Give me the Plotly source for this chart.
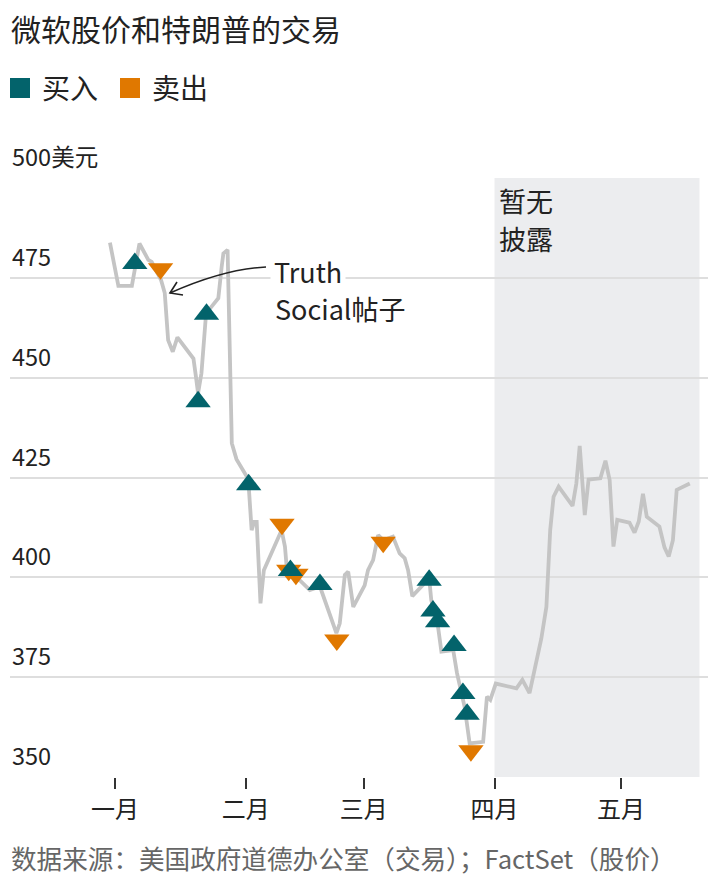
import plotly.graph_objects as go

# ---------------- data (x = days since 1 January) ----------------
price_day = [-1.2, 0.8, 4.0, 5.8, 7.9, 8.7, 10.9, 11.8, 12.6, 13.7, 14.8, 18.6, 19.2, 19.7,
             20.5, 21.6, 22.9, 24.5, 25.3, 25.7, 26.7, 27.7, 28.8, 31.6, 32.4, 33.0, 33.6,
             34.5, 35.3, 39.5, 40.3, 40.7, 41.9, 43.8, 46.2, 48.6, 52.5, 53.3, 54.5, 55.3,
             56.5, 59.2, 60.0, 61.2, 62.4, 63.6, 65.9, 67.5, 68.7, 69.5, 70.5, 72.3, 74.5,
             75.0, 75.8, 76.6, 77.4, 80.2, 81.1, 81.8, 82.9, 84.1, 87.3, 88.2, 89.0, 90.3,
             95.2, 96.6, 98.3, 101.1, 102.3, 103.2, 104.0, 105.2, 108.5, 109.4, 110.2, 111.4,
             112.3, 115.1, 116.3, 117.3, 118.2, 119.1, 122.0, 123.2, 124.2, 125.2, 126.1,
             129.1, 130.3, 131.3, 132.3, 133.2, 136.3]
price_value = [483.8, 473, 473, 483.6, 479.5, 479, 474.5, 471.2, 459.4, 456.5, 460.1, 454.8,
               450.2, 446.1, 451.1, 466.1, 467.8, 469.9, 477.8, 481.1, 482, 433.6, 429.6,
               424.6, 411.8, 413.9, 413.9, 393.5, 401.8, 411.8, 407.7, 402.7, 400.6, 399.3,
               396.8, 397.7, 386, 388.5, 400.6, 401.4, 392.6, 398, 401.8, 404.3, 410.6, 409.3,
               410.2, 406, 404.8, 401.8, 395.3, 397.2, 399.7, 394.3, 391, 387.6, 381.4, 381.8,
               376, 372.6, 367.6, 358.4, 358.8, 370.1, 369.3, 373.4, 372.2, 374.3, 371, 384.7,
               392.6, 411.8, 420.2, 422.7, 417.9, 423.5, 432.9, 415.6, 424.5, 424.8, 429.2,
               424.4, 407.7, 414.4, 413.7, 411.2, 414, 420.9, 415.2, 412.7, 407.5, 405.2,
               409.3, 421.9, 423.5]

buy_day = [4.7, 19.7, 21.7, 31.7, 41.6, 48.6, 74.5, 75.4, 76.5, 80.4, 82.5, 83.5]
buy_value = [478.6, 444.0, 465.9, 423.2, 401.7, 398.2, 399.3, 391.6, 388.9, 382.9, 370.9, 365.7]

sell_day = [10.8, 39.6, 41.2, 42.9, 52.6, 63.6, 84.4]
sell_value = [477.3, 413.3, 401.8, 400.8, 384.3, 408.8, 356.6]

month_day = [0, 31, 59, 90, 120]
month_label = ["一月", "二月", "三月", "四月", "五月"]

y_ticks = [350, 375, 400, 425, 450, 475, 500]
y_tick_text = ["350", "375", "400", "425", "450", "475", "500美元"]

undisclosed_start = 90      # 1 April
undisclosed_end = 138.6

# ---------------- styling ----------------
FONT = "Noto Sans CJK SC"
TEAL = "#03636b"
ORANGE = "#e07800"
LINE = "#c4c4c4"
GRID = "#dedede"
SHADE = "#ecedef"
DARK = "#222222"

W, H = 720, 890
ML, MR, MT, MB = 10, 12, 178, 113
PW, PH = W - ML - MR, H - MT - MB
PX_PER_DAY = 4.217
X_JAN1 = 115


def px(x):
    return (x - ML) / PW


def py(y):
    return (H - MB - y) / PH


fig = go.Figure()

fig.add_trace(go.Scatter(
    x=price_day, y=price_value, mode="lines",
    line=dict(color=LINE, width=3.8), hoverinfo="skip", showlegend=False))

fig.add_trace(go.Scatter(
    x=sell_day, y=sell_value, mode="markers",
    marker=dict(symbol="triangle-down", size=22, color=ORANGE, line=dict(width=0)),
    showlegend=False))

fig.add_trace(go.Scatter(
    x=buy_day, y=buy_value, mode="markers",
    marker=dict(symbol="triangle-up", size=22, color=TEAL, line=dict(width=0)),
    showlegend=False))

shapes = [
    dict(type="rect", xref="x", yref="paper", x0=undisclosed_start, x1=undisclosed_end,
         y0=0, y1=1, fillcolor=SHADE, line=dict(width=0), layer="below"),
    # legend swatches
    dict(type="rect", xref="paper", yref="paper", x0=px(10), x1=px(30), y0=py(98), y1=py(78),
         fillcolor=TEAL, line=dict(width=0)),
    dict(type="rect", xref="paper", yref="paper", x0=px(120), x1=px(140), y0=py(98), y1=py(78),
         fillcolor=ORANGE, line=dict(width=0)),
    # curved annotation arrow
    dict(type="path", xref="paper", yref="paper",
         path=f"M {px(266)},{py(267)} Q {px(224)},{py(269)} {px(170)},{py(293)}",
         line=dict(color=DARK, width=1.6)),
    dict(type="path", xref="paper", yref="paper",
         path=f"M {px(177)},{py(282)} L {px(170)},{py(293)} L {px(183)},{py(295)}",
         line=dict(color=DARK, width=1.6)),
]


def note(text, x, y, size, color=DARK, **kw):
    d = dict(text=text, xref="paper", yref="paper", x=px(x), y=py(y),
             xanchor="left", yanchor="middle", showarrow=False, align="left",
             font=dict(family=FONT, size=size, color=color))
    d.update(kw)
    return d


annotations = [
    note("微软股价和特朗普的交易", 9, 28, 30),
    note("买入", 40, 87, 28),
    note("卖出", 150, 87, 28),
    note("暂无", 497, 201, 27),
    note("披露", 497, 238, 27),
    note("Truth", 270, 271, 27, bgcolor="white", borderpad=3),
    note("Social帖子", 273, 308, 27),
    note("数据来源：美国政府道德办公室（交易）；FactSet（股价）", 9, 857, 25.6, color="#666666"),
]

for v, t in zip(y_ticks, y_tick_text):
    annotations.append(dict(text=t, xref="paper", yref="y", x=0, y=v,
                            xanchor="left", yanchor="bottom", yshift=3, showarrow=False,
                            font=dict(family=FONT, size=23.5, color=DARK)))

fig.update_layout(
    width=W, height=H,
    margin=dict(l=ML, r=MR, t=MT, b=MB),
    paper_bgcolor="white", plot_bgcolor="white",
    font=dict(family=FONT, color=DARK),
    shapes=shapes, annotations=annotations,
    xaxis=dict(range=[(ML - X_JAN1) / PX_PER_DAY, (W - MR - X_JAN1) / PX_PER_DAY],
               tickmode="array", tickvals=month_day, ticktext=month_label,
               ticks="outside", ticklen=11, tickwidth=1.5, tickcolor="#333333",
               showgrid=False, zeroline=False, showline=False,
               tickfont=dict(family=FONT, size=24, color=DARK), fixedrange=True),
    yaxis=dict(range=[350, 500], tickmode="array", tickvals=y_ticks,
               showticklabels=False, ticks="", showgrid=True, gridcolor=GRID, gridwidth=2,
               zeroline=False, showline=False, fixedrange=True),
    hovermode=False,
)

fig.write_html("out.html", config={"displayModeBar": False},
               post_script="document.body.style.margin='0';")
